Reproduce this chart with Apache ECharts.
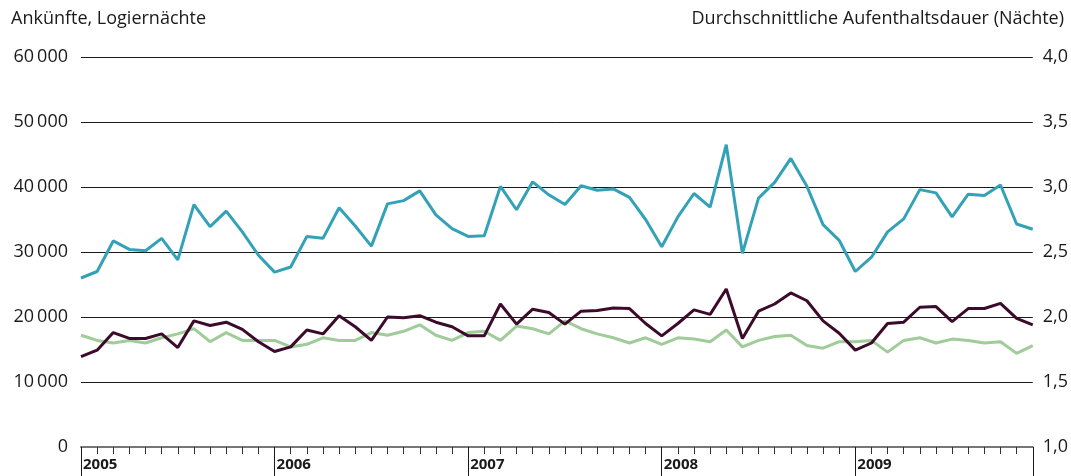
<!DOCTYPE html>
<html>
<head>
<meta charset="utf-8">
<script src="https://cdn.jsdelivr.net/npm/echarts@6/dist/echarts.min.js"></script>
<style>
  html, body { margin: 0; padding: 0; background: #fff; }
  #chart { width: 1071px; height: 476px; }
</style>
</head>
<body>
<div id="chart"></div>
<script>
// Monate 2005-2009
const years = ['2005', '2006', '2007', '2008', '2009'];
const months = [];
years.forEach(function (y) {
  for (let m = 1; m <= 12; m++) months.push(y + '-' + m);
});

// Logiernächte (linke Achse)
const logiernaechte = [
  26000, 27000, 31700, 30400, 30200, 32100, 28800, 37300, 33900, 36300, 33100, 29500,
  26900, 27700, 32400, 32100, 36800, 34000, 30900, 37400, 37900, 39400, 35700, 33600,
  32400, 32500, 40100, 36500, 40800, 38800, 37300, 40200, 39500, 39700, 38400, 35000,
  30800, 35400, 39000, 36900, 46500, 29800, 38300, 40700, 44400, 40100, 34200, 31800,
  27000, 29200, 33100, 35100, 39600, 39100, 35400, 38900, 38700, 40300, 34300, 33500
];

// Ankünfte (linke Achse)
const ankuenfte = [
  13900, 14900, 17600, 16700, 16700, 17400, 15300, 19400, 18700, 19200, 18100, 16200,
  14700, 15400, 18000, 17400, 20200, 18500, 16400, 20000, 19900, 20200, 19200, 18500,
  17100, 17100, 22000, 18900, 21200, 20700, 18900, 20900, 21000, 21400, 21300, 19000,
  17100, 19000, 21100, 20400, 24300, 16700, 20900, 22000, 23700, 22500, 19400, 17500,
  14900, 16000, 19000, 19200, 21500, 21600, 19300, 21300, 21300, 22100, 19800, 18800
];

// Durchschnittliche Aufenthaltsdauer (rechte Achse)
const aufenthaltsdauer = [
  1.86, 1.82, 1.80, 1.82, 1.80, 1.84, 1.87, 1.91, 1.81, 1.88, 1.82, 1.82,
  1.82, 1.77, 1.79, 1.84, 1.82, 1.82, 1.88, 1.86, 1.89, 1.94, 1.86, 1.82,
  1.88, 1.89, 1.82, 1.93, 1.91, 1.87, 1.97, 1.91, 1.87, 1.84, 1.80, 1.84,
  1.79, 1.84, 1.83, 1.81, 1.90, 1.77, 1.82, 1.85, 1.86, 1.78, 1.76, 1.81,
  1.81, 1.82, 1.73, 1.82, 1.84, 1.80, 1.83, 1.82, 1.80, 1.81, 1.72, 1.78
];

const leftTitle = 'Ankünfte, Logiernächte';
const rightTitle = 'Durchschnittliche Aufenthaltsdauer (Nächte)';

const font = '"Open Sans", "Noto Sans", sans-serif';

function isYearStart(i) { return i % 12 === 0; }

var chart = echarts.init(document.getElementById('chart'), null, { renderer: 'canvas' });

var option = {
  animation: false,
  textStyle: { fontFamily: font },
  grid: { left: 81, right: 36, top: 57, bottom: 29 },
  graphic: [
    {
      type: 'text', left: 11, top: 10,
      style: { text: leftTitle, font: '18px ' + font, fill: '#1a1a1a' }
    },
    {
      type: 'text', right: 7, top: 10,
      style: { text: rightTitle, font: '18px ' + font, fill: '#1a1a1a' }
    }
  ],
  xAxis: [
    {
      type: 'category',
      data: months,
      boundaryGap: false,
      axisLine: { lineStyle: { color: '#777', width: 2 } },
      axisTick: {
        interval: 0,
        length: 7,
        lineStyle: { color: '#333', width: 1 }
      },
      axisLabel: {
        interval: function (i) { return isYearStart(i); },
        formatter: function (v) { return v.split('-')[0]; },
        align: 'left',
        margin: 10,
        padding: [0, 0, 0, 2],
        fontWeight: 'bold',
        fontSize: 15,
        color: '#1a1a1a'
      },
      splitLine: { show: false }
    },
    {
      // lange Trennstriche zwischen den Jahren
      type: 'category',
      data: months,
      boundaryGap: false,
      position: 'bottom',
      axisLine: { show: false },
      axisTick: {
        interval: function (i) { return isYearStart(i) || i === months.length - 1; },
        length: 30,
        lineStyle: { color: '#1a1a1a', width: 1 }
      },
      axisLabel: { show: false },
      splitLine: { show: false }
    }
  ],
  yAxis: [
    {
      type: 'value',
      min: 0, max: 60000, interval: 10000,
      axisLine: { show: false },
      axisTick: { show: false },
      axisLabel: {
        margin: 13,
        fontSize: 18,
        color: '#1a1a1a',
        formatter: function (v) {
          return v === 0 ? '0' : String(v / 1000) + '\u2009000';
        }
      },
      splitLine: { lineStyle: { color: '#1a1a1a', width: 1 } }
    },
    {
      type: 'value',
      min: 1, max: 4, interval: 0.5,
      axisLine: { show: false },
      axisTick: { show: false },
      axisLabel: {
        margin: 10,
        fontSize: 18,
        color: '#1a1a1a',
        formatter: function (v) { return v.toFixed(1).replace('.', ','); }
      },
      splitLine: { show: false }
    }
  ],
  series: [
    {
      name: 'Aufenthaltsdauer',
      type: 'line',
      yAxisIndex: 1,
      data: aufenthaltsdauer,
      symbol: 'none',
      lineStyle: { color: '#9fcc98', width: 3 }
    },
    {
      name: 'Ankünfte',
      type: 'line',
      data: ankuenfte,
      symbol: 'none',
      lineStyle: { color: '#3c0b2b', width: 3 }
    },
    {
      name: 'Logiernächte',
      type: 'line',
      data: logiernaechte,
      symbol: 'none',
      lineStyle: { color: '#33a2b6', width: 3 }
    }
  ]
};

chart.setOption(option);
</script>
</body>
</html>
